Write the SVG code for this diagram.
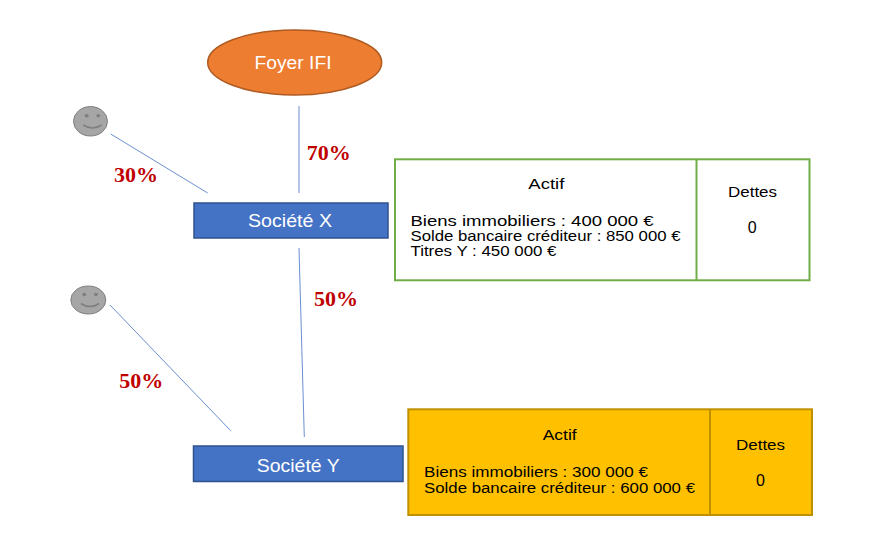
<svg xmlns="http://www.w3.org/2000/svg" width="884" height="550" viewBox="0 0 884 550">
<style>
.bg{fill:#ffffff}
.conn{stroke:#4472C4;stroke-width:0.8;fill:none}
.pct{font-family:"Liberation Serif","Times New Roman",serif;font-weight:bold;font-size:20px;fill:#C00000}
.company{fill:#4472C4;stroke:#2F528F;stroke-width:1.5}
.ctext{font-family:"Liberation Sans",Arial,sans-serif;font-size:18px;fill:#ffffff}
.face{fill:#A6A6A6;stroke:#7F7F7F;stroke-width:1}
.eye{fill:#7F7F7F}
.smile{fill:none;stroke:#7F7F7F;stroke-width:1.5}
.t{font-family:"Liberation Sans",Arial,sans-serif;font-size:14px;fill:#000000}
.zero{font-family:"Liberation Sans",Arial,sans-serif;font-size:16px;fill:#000000}
.green{fill:#ffffff;stroke:#70AD47;stroke-width:2}
.yellow{fill:#FFC000;stroke:#BF9000;stroke-width:2}
</style>
<rect class="bg" x="0" y="0" width="884" height="550"/>

<g id="connectors">
  <line class="conn" x1="299" y1="106" x2="299" y2="193"/>
  <line class="conn" x1="110.7" y1="134" x2="207.7" y2="193"/>
  <line class="conn" x1="299" y1="248" x2="304.3" y2="437"/>
  <line class="conn" x1="110" y1="305" x2="230.7" y2="430.7"/>
  <text class="pct" x="306.7" y="160" textLength="44" lengthAdjust="spacingAndGlyphs">70%</text>
  <text class="pct" x="114" y="181.7" textLength="44" lengthAdjust="spacingAndGlyphs">30%</text>
  <text class="pct" x="314" y="305.7" textLength="44" lengthAdjust="spacingAndGlyphs">50%</text>
  <text class="pct" x="119.3" y="388.3" textLength="44" lengthAdjust="spacingAndGlyphs">50%</text>
</g>

<g id="foyer-ifi">
  <ellipse cx="294.7" cy="62.5" rx="87" ry="32.5" fill="#ED7D31" stroke="#AE5A21" stroke-width="1.5"/>
  <text class="ctext" x="293" y="69.3" text-anchor="middle" font-size="17.5" textLength="77" lengthAdjust="spacingAndGlyphs">Foyer IFI</text>
</g>

<g id="person-1">
  <ellipse class="face" cx="90.5" cy="121.3" rx="17" ry="14.7"/>
  <ellipse class="eye" cx="86.7" cy="115.7" rx="2" ry="1.7"/>
  <ellipse class="eye" cx="98.3" cy="115.7" rx="2" ry="1.7"/>
  <path class="smile" d="M83.3 125 Q92.5 131 101.7 125"/>
</g>

<g id="person-2">
  <ellipse class="face" cx="88.3" cy="300" rx="17.5" ry="14"/>
  <ellipse class="eye" cx="84.3" cy="294.5" rx="2" ry="1.7"/>
  <ellipse class="eye" cx="96" cy="294.5" rx="2" ry="1.7"/>
  <path class="smile" d="M80.8 303.5 Q90 309.5 99.2 303.5"/>
</g>

<g id="societe-x">
  <rect class="company" x="194" y="203" width="194" height="35"/>
  <text class="ctext" x="248" y="226.7" textLength="84" lengthAdjust="spacingAndGlyphs">Société X</text>
</g>

<g id="societe-y">
  <rect class="company" x="193.5" y="446" width="209.5" height="35.5"/>
  <text class="ctext" x="256.7" y="471.7" textLength="83" lengthAdjust="spacingAndGlyphs">Société Y</text>
</g>

<g id="bilan-x">
  <rect class="green" x="395" y="159.3" width="414.5" height="121"/>
  <line x1="696.5" y1="159.3" x2="696.5" y2="280.3" stroke="#70AD47" stroke-width="2"/>
  <text class="t" x="528.3" y="189" textLength="36" lengthAdjust="spacingAndGlyphs">Actif</text>
  <text class="t" x="410.5" y="226" textLength="243" lengthAdjust="spacingAndGlyphs">Biens immobiliers : 400 000 €</text>
  <text class="t" x="410.5" y="241" textLength="270" lengthAdjust="spacingAndGlyphs">Solde bancaire créditeur : 850 000 €</text>
  <text class="t" x="410.5" y="255.7" textLength="146" lengthAdjust="spacingAndGlyphs">Titres Y : 450 000 €</text>
  <text class="t" x="728" y="197.3" textLength="49" lengthAdjust="spacingAndGlyphs">Dettes</text>
  <text class="zero" x="752.3" y="232.7" text-anchor="middle">0</text>
</g>

<g id="bilan-y">
  <rect class="yellow" x="408.3" y="409.3" width="403.7" height="105.7"/>
  <line x1="710" y1="409.3" x2="710" y2="515" stroke="#BF9000" stroke-width="2"/>
  <text class="t" x="542.7" y="440" textLength="34" lengthAdjust="spacingAndGlyphs">Actif</text>
  <text class="t" x="424" y="476.7" textLength="224" lengthAdjust="spacingAndGlyphs">Biens immobiliers : 300 000 €</text>
  <text class="t" x="424" y="492.7" textLength="271" lengthAdjust="spacingAndGlyphs">Solde bancaire créditeur : 600 000 €</text>
  <text class="t" x="736" y="450" textLength="49" lengthAdjust="spacingAndGlyphs">Dettes</text>
  <text class="zero" x="760.5" y="485.7" text-anchor="middle">0</text>
</g>
</svg>
